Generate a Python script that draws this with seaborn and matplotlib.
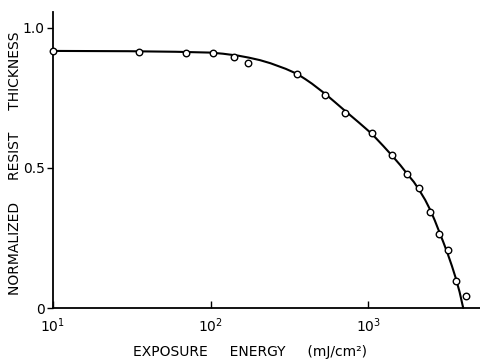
import matplotlib
matplotlib.use("Agg")
import matplotlib.pyplot as plt
import seaborn as sns
import numpy as np
import pandas as pd

sns.set_theme(style="white")
plt.rcParams['font.family'] = ['DejaVu Sans']
plt.rcParams['text.color'] = 'black'
plt.rcParams['xtick.color'] = 'black'
plt.rcParams['ytick.color'] = 'black'

# measured points
energy = [10, 35, 70, 104, 141, 174, 354, 533, 708, 1055, 1413, 1762, 2115, 2478, 2826, 3190, 3590, 4190]
thickness = [0.918, 0.914, 0.910, 0.910, 0.896, 0.876, 0.836, 0.761, 0.696, 0.624, 0.545, 0.480,
             0.429, 0.344, 0.264, 0.208, 0.097, 0.043]

# fitted curve
curve_energy = [10, 30, 60, 100, 120, 150, 175, 206, 240, 300, 354, 400, 440, 533, 610, 700, 870,
                1055, 1250, 1413, 1600, 1762, 1950, 2115, 2300, 2478, 2650, 2826, 3000, 3190,
                3400, 3590, 3800, 4010]
curve_thickness = [0.918, 0.917, 0.915, 0.912, 0.908, 0.901, 0.894, 0.885, 0.874, 0.854, 0.836,
                   0.817, 0.801, 0.765, 0.737, 0.708, 0.663, 0.622, 0.578, 0.545, 0.510, 0.480,
                   0.450, 0.420, 0.386, 0.350, 0.312, 0.272, 0.235, 0.195, 0.150, 0.108, 0.058,
                   0.0]

xticks = [10, 100, 1000]
xticklabels = [r'$10^1$', r'$10^2$', r'$10^3$']
yticks = [0, 0.5, 1.0]
yticklabels = ['0', '0.5', '1.0']

pts = pd.DataFrame({'E': energy, 'T': thickness})
fit = pd.DataFrame({'E': curve_energy, 'T': curve_thickness})

fig = plt.figure(figsize=(4.81, 3.62), dpi=100)
ax = fig.add_axes([53 / 481, 54 / 362, 428 / 481, 296 / 362])

sns.lineplot(data=fit, x='E', y='T', ax=ax, color='black', linewidth=1.5, clip_on=False)
sns.scatterplot(data=pts, x='E', y='T', ax=ax, marker='o', s=22, facecolor='white',
                edgecolor='black', linewidth=1.0, zorder=5, clip_on=False)

ax.set_xscale('log')
ax.set_xlim(10, 5200)
ax.set_ylim(0, 1.057)
ax.set_xticks(xticks)
ax.set_xticklabels(xticklabels, fontsize=10)
ax.minorticks_off()
ax.set_yticks(yticks)
ax.set_yticklabels(yticklabels, fontsize=10)
ax.tick_params(axis='x', direction='in', length=5, width=1, pad=6, bottom=True)
ax.tick_params(axis='y', direction='out', length=4, width=1, pad=2, left=True)

for s in ['top', 'right']:
    ax.spines[s].set_visible(False)
for s in ['left', 'bottom']:
    ax.spines[s].set_color('black')
    ax.spines[s].set_linewidth(1.3)

ax.set_xlabel('')
ax.set_ylabel('')
fig.text(250 / 481, 1 - 352 / 362, 'EXPOSURE     ENERGY     (mJ/cm²)', fontsize=10,
         ha='center', va='center')
fig.text(15 / 481, 1 - 163 / 362, 'NORMALIZED     RESIST     THICKNESS', fontsize=10,
         ha='center', va='center', rotation=90)

fig.savefig('out.png', dpi=100)
